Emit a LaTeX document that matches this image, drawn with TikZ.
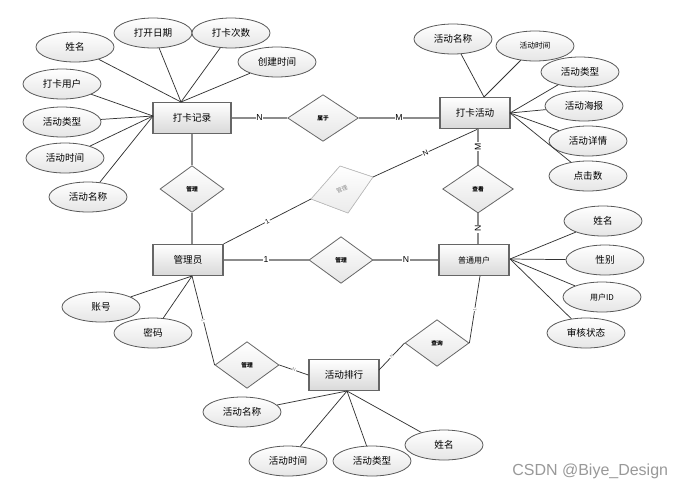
\documentclass[tikz,border=0pt]{standalone}
\usepackage{fontspec}
\setmainfont{Noto Sans CJK SC}
\newfontfamily\lat{Liberation Sans}
\usetikzlibrary{shapes.geometric,calc}
\begin{document}
\begin{tikzpicture}[x=0.75pt,y=-0.75pt,
 attr/.style={ellipse, draw=black!65, line width=0.6pt, top color=white, bottom color=black!10, minimum width=58.5pt, minimum height=22.5pt, inner sep=0pt, font=\fontsize{7.2}{8}\selectfont},
 ent/.style={rectangle, draw=black!60, line width=0.9pt, top color=white, bottom color=black!15, minimum width=52.5pt, minimum height=23.25pt, inner sep=0pt, font=\fontsize{7.2}{8}\selectfont},
 rel/.style={diamond, draw=black!60, line width=0.6pt, top color=white, bottom color=black!10, minimum width=48pt, minimum height=35pt, inner sep=0pt, font=\bfseries\fontsize{4.3}{5}\selectfont},
 al/.style={draw=black!80, line width=0.55pt},
 rl/.style={draw=black!45, line width=1.1pt},
 card/.style={fill=white, inner sep=0.6pt, font=\lat\fontsize{6.5}{7}\selectfont},
 tinylab/.style={sloped, fill=white, inner sep=0.3pt, text=black!50, font=\lat\fontsize{3.5}{4}\selectfont}
]
\useasboundingbox (0,0) rectangle (680,490);
\fill[white] (0,0) rectangle (680,490);

% entities
\node[ent, minimum width=58.5pt] (dkjl) at (192,118) {打卡记录};
\node[ent] (dkhd) at (475,113) {打卡活动};
\node[ent] (gly) at (188,260) {管理员};
\node[ent, font=\fontsize{6}{7}\selectfont] (ptyh) at (474,260) {普通用户};
\node[ent] (hdph) at (344,375) {活动排行};

% relations
\node[rel, minimum width=53pt] (sy) at (323,118) {属于};
\node[rel] (gl1) at (192,189) {管理};
\node[rel, minimum width=53pt, minimum height=36pt] (ck) at (478,189) {查看};
\node[rel] (gl2) at (341,260) {管理};
\node[rel] (gl3) at (247,365) {管理};
\node[rel] (cx) at (437,343) {查询};

% faded relation
\coordinate (fT) at (340,166);
\coordinate (fR) at (373,177);
\coordinate (fB) at (348,213);
\coordinate (fL) at (311,199);
\filldraw[draw=black!25, line width=0.5pt, top color=white, bottom color=black!8] (fT) -- (fR) -- (fB) -- (fL) -- cycle;
\node[rotate=24, text=black!45, inner sep=0pt, font=\fontsize{4.3}{5}\selectfont] (glf) at (342,189) {管理};

% attributes of 打卡记录
\node[attr] (a1) at (75,47) {姓名};
\node[attr] (a2) at (153,33) {打开日期};
\node[attr] (a3) at (231,33) {打卡次数};
\node[attr] (a4) at (277,62) {创建时间};
\node[attr] (a5) at (62,84) {打卡用户};
\node[attr] (a6) at (62,122) {活动类型};
\node[attr] (a7) at (65,158) {活动时间};
\node[attr] (a8) at (88,197) {活动名称};
\coordinate (dkjlT) at (181,102);
\coordinate (dkjlL) at (153,116);
\foreach \a in {a1,a2,a3,a4} \draw[al] (\a) -- (dkjlT);
\foreach \a in {a5,a6,a7,a8} \draw[al] (\a) -- (dkjlL);

% attributes of 打卡活动
\node[attr] (b1) at (453,39) {活动名称};
\node[attr, font=\fontsize{5.8}{7}\selectfont] (b2) at (535,46) {活动时间};
\node[attr] (b3) at (580,72) {活动类型};
\node[attr] (b4) at (584,106) {活动海报};
\node[attr] (b5) at (588,141) {活动详情};
\node[attr] (b6) at (588,176) {点击数};
\coordinate (dkhdT) at (484,97);
\coordinate (dkhdR) at (510,113);
\coordinate (dkhdB) at (478,129);
\foreach \a in {b1,b2} \draw[al] (\a) -- (dkhdT);
\foreach \a in {b3,b4,b5,b6} \draw[al] (\a) -- (dkhdR);

% attributes of 普通用户
\node[attr] (c1) at (603,221) {姓名};
\node[attr] (c2) at (605,260) {性别};
\node[attr, font=\fontsize{6}{7}\selectfont] (c3) at (602,297) {用户ID};
\node[attr] (c4) at (586,333) {审核状态};
\coordinate (ptyhR) at (510,259);
\coordinate (ptyhB) at (480,276);
\foreach \a in {c1,c2,c3,c4} \draw[al] (\a) -- (ptyhR);

% attributes of 管理员
\node[attr] (d1) at (101,307) {账号};
\node[attr] (d2) at (153,333) {密码};
\coordinate (glyB) at (192,276);
\foreach \a in {d1,d2} \draw[al] (\a) -- (glyB);

% attributes of 活动排行
\node[attr] (e1) at (242,412) {活动名称};
\node[attr] (e2) at (288,461) {活动时间};
\node[attr] (e3) at (372,461) {活动类型};
\node[attr] (e4) at (444,445) {姓名};
\coordinate (hdphB) at (347,391);
\coordinate (hdphR) at (379,370);
\foreach \a in {e1,e2,e3,e4} \draw[al] (\a) -- (hdphB);

% relationship connectors
\draw[rl] (dkjl) -- node[card]{N} (sy);
\draw[rl] (sy.east) -- node[card]{M} (sy.east -| dkhd.west);
\draw[rl] (dkjl) -- (gl1);
\draw[rl] (gl1.south) -- (gl1.south |- gly.north);
\draw[al] (gly.north east) -- node[card, sloped, font=\lat\fontsize{5}{6}\selectfont]{1} (fL);
\draw[al] (fR) -- node[card, sloped, font=\lat\fontsize{5.5}{6}\selectfont]{N} (dkhdB);
\draw[rl] (dkhdB) -- node[card, rotate=90]{M} (ck.north);
\draw[rl] (ck.south) -- node[card, rotate=90]{N} (ck.south |- ptyh.north);
\draw[rl] (gly) -- node[card]{1} (gl2);
\draw[rl] (gl2) -- node[card]{N} (ptyh);
\draw[al] (glyB) -- node[tinylab]{1} (gl3.west);
\draw[al] (gl3.east) -- node[tinylab]{N} (hdph.west);
\draw[al] (hdphR) -- node[tinylab]{N} (cx.west);
\draw[al] (cx.east) -- node[tinylab]{1} (ptyhB);

% watermark
\node[anchor=west, text=black!40, inner sep=0pt, font=\lat\fontsize{12}{13}\selectfont] (wm) at (512,471) {CSDN @Biye\_Design};
\end{tikzpicture}
\end{document}
